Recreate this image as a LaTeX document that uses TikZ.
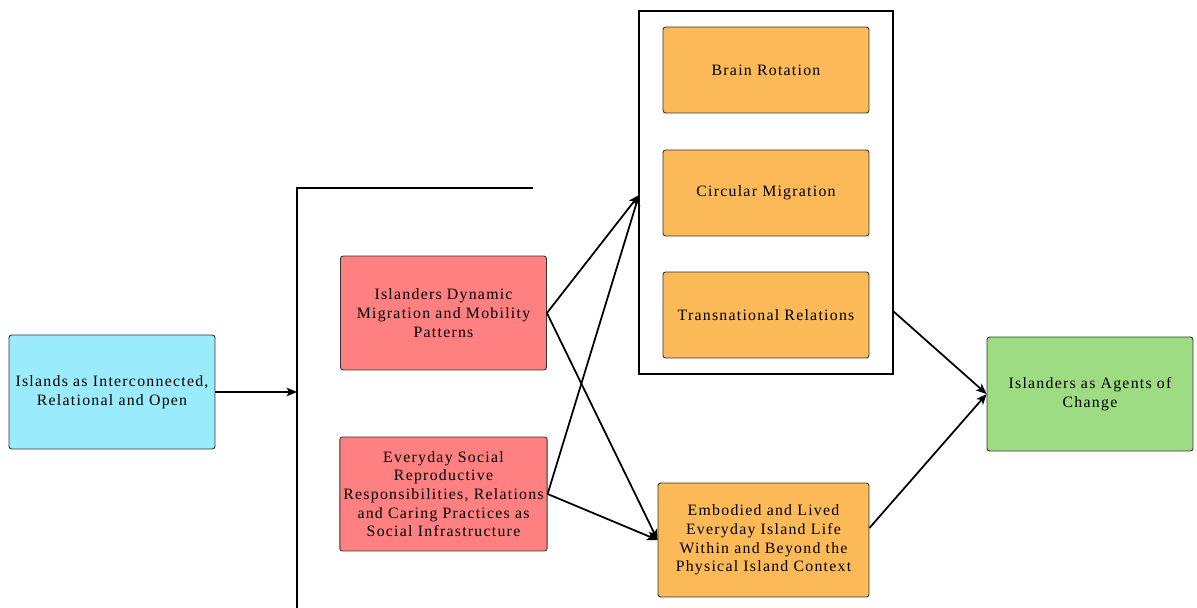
\documentclass[tikz,border=0pt]{standalone}
\usepackage{fontspec}
\setmainfont[LetterSpace=8]{Liberation Serif}
\usetikzlibrary{arrows.meta}

\definecolor{isleblue}{HTML}{9AEBFB}
\definecolor{mobred}{HTML}{FF8080}
\definecolor{circorange}{HTML}{FBBA57}
\definecolor{agentgreen}{HTML}{9EDC83}

\begin{document}
\begin{tikzpicture}[x=0.02cm, y=-0.02cm,
    box/.style={draw=black!80, rounded corners=1.5pt, line width=0.5pt, align=center,
        font=\fontsize{9}{10.6}\selectfont, minimum width=4.12cm, minimum height=2.28cm, inner sep=2pt},
    smallbox/.style={box, minimum height=1.72cm},
    link/.style={-{Stealth[length=6pt, width=5pt, inset=1.5pt]}, line width=1pt}]
    \useasboundingbox (0,0) rectangle (1197,608);
    % Boxes
    \node[box, fill=isleblue] (islands) at (112,392) {Islands as Interconnected,\\Relational and Open};
    \node[box, fill=mobred] (mobility) at (443.5,313) {Islanders Dynamic\\Migration and Mobility\\Patterns};
    \node[box, fill=mobred] (caring) at (443.5,494) {Everyday Social\\Reproductive\\Responsibilities, Relations\\and Caring Practices as\\Social Infrastructure};
    \node[smallbox, fill=circorange] (brain) at (766,70) {Brain Rotation};
    \node[smallbox, fill=circorange] (circular) at (766,193) {Circular Migration};
    \node[smallbox, fill=circorange] (transnat) at (766,315) {Transnational Relations};
    \node[box, fill=circorange, minimum width=4.22cm] (embodied) at (763.5,540) {Embodied and Lived\\Everyday Island Life\\Within and Beyond the\\Physical Island Context};
    \node[box, fill=agentgreen] (agents) at (1090,394) {Islanders as Agents of\\Change};
    % Group and bracket
    \draw[line width=1.2pt] (639,11) rectangle (893,374);
    \draw[line width=1.2pt] (533,188) -- (297,188) -- (297,608);
    \coordinate (bracket) at (297,392);
    \coordinate (groupin) at (639,195);
    \coordinate (groupout) at (893,311);
    % Arrows
    \draw[link] (islands.east) -- (bracket);
    \draw[link] (mobility.east) -- (groupin);
    \draw[link] (caring.east) -- (groupin);
    \draw[link] (mobility.east) -- (embodied.west);
    \draw[link] (caring.east) -- (embodied.west);
    \draw[link] (groupout) -- (agents.west);
    \draw[link] ([yshift=0.24cm]embodied.east) -- (agents.west);
\end{tikzpicture}
\end{document}
